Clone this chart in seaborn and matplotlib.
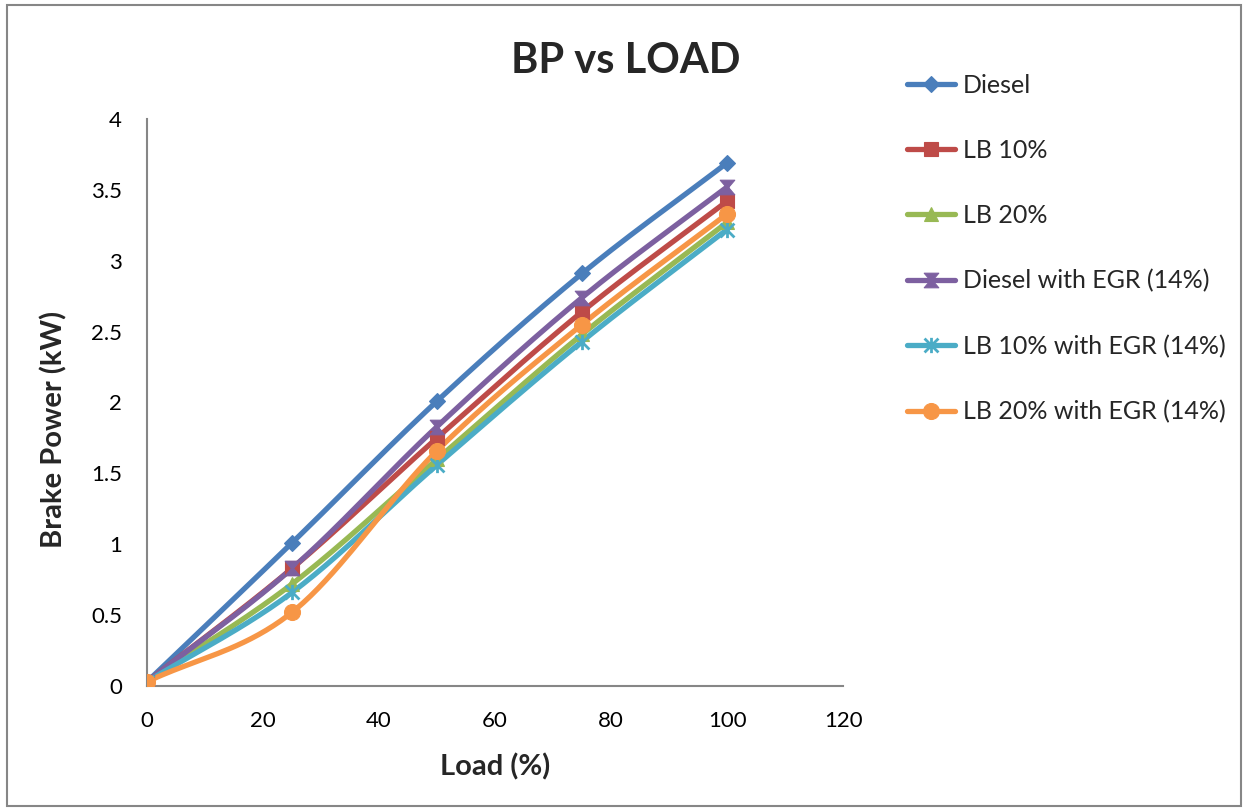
import numpy as np
import pandas as pd
import matplotlib
matplotlib.use("Agg")
import matplotlib.pyplot as plt
from matplotlib.lines import Line2D
from matplotlib.path import Path
import seaborn as sns

# Engine test data: brake power at each load step
load = [0, 25, 50, 75, 100]
diesel = [0.03, 1.01, 2.01, 2.91, 3.69]
lb10 = [0.03, 0.83, 1.75, 2.64, 3.42]
lb20 = [0.03, 0.72, 1.60, 2.48, 3.27]
diesel_egr = [0.03, 0.83, 1.83, 2.74, 3.52]
lb10_egr = [0.03, 0.66, 1.56, 2.43, 3.22]
lb20_egr = [0.03, 0.52, 1.66, 2.55, 3.33]

series_names = ["Diesel", "LB 10%", "LB 20%", "Diesel with EGR (14%)",
                "LB 10% with EGR (14%)", "LB 20% with EGR (14%)"]
series_values = [diesel, lb10, lb20, diesel_egr, lb10_egr, lb20_egr]
colors = ["#4A7EBB", "#BE4B48", "#98B954", "#7D60A0", "#4BACC6", "#F79646"]

hourglass = Path([(-1, 1), (1, 1), (0.15, 0), (1, -1), (-1, -1), (-0.15, 0), (-1, 1)],
                 [Path.MOVETO] + [Path.LINETO] * 5 + [Path.CLOSEPOLY])
asterisk = Path([(-1, 1), (1, -1), (-1, -1), (1, 1), (0, 1.1), (0, -1.1)],
                [Path.MOVETO, Path.LINETO, Path.MOVETO, Path.LINETO, Path.MOVETO, Path.LINETO])
markers = ["D", "s", "^", hourglass, asterisk, "o"]
msizes = [8.5, 10.5, 10.5, 10.5, 11, 11.5]


def smooth_curve(xs, ys, n=40):
    """Catmull-Rom style smoothing through the given points."""
    xs = np.asarray(xs, float)
    ys = np.asarray(ys, float)
    px = np.concatenate([[2 * xs[0] - xs[1]], xs, [2 * xs[-1] - xs[-2]]])
    py = np.concatenate([[2 * ys[0] - ys[1]], ys, [2 * ys[-1] - ys[-2]]])
    out_x, out_y = [], []
    t = np.linspace(0, 1, n)
    for i in range(1, len(px) - 2):
        p0, p1, p2, p3 = (np.array([px[j], py[j]]) for j in (i - 1, i, i + 1, i + 2))
        c1 = p1 + (p2 - p0) / 6
        c2 = p2 - (p3 - p1) / 6
        b = ((1 - t) ** 3)[:, None] * p1 + (3 * (1 - t) ** 2 * t)[:, None] * c1 \
            + (3 * (1 - t) * t ** 2)[:, None] * c2 + (t ** 3)[:, None] * p2
        out_x.extend(b[:, 0])
        out_y.extend(b[:, 1])
    return np.array(out_x), np.array(out_y)


sns.set_theme(style="white")
plt.rcParams["font.family"] = ["Lato", "DejaVu Sans"]

fig = plt.figure(figsize=(12.46, 8.09), dpi=100)
ax = fig.add_axes([0.118, 0.152, 0.5586, 0.701])

for name, vals, c in zip(series_names, series_values, colors):
    sx, sy = smooth_curve(load, vals)
    curve = pd.DataFrame({"x": sx, "y": sy})
    sns.lineplot(data=curve, x="x", y="y", ax=ax, color=c, linewidth=3.8,
                 sort=False, estimator=None, zorder=2)

for name, vals, c, m, ms in zip(series_names, series_values, colors, markers, msizes):
    ax.plot(load, vals, linestyle="none", marker=m, markersize=ms, color=c,
            markeredgecolor=c, markeredgewidth=2.0 if m is asterisk else 0.8, zorder=3)

ax.set_xlim(0, 120)
ax.set_ylim(0, 4)
ax.set_xticks([0, 20, 40, 60, 80, 100, 120])
ax.set_yticks([0, 0.5, 1, 1.5, 2, 2.5, 3, 3.5, 4])
ax.set_yticklabels(["0", "0.5", "1", "1.5", "2", "2.5", "3", "3.5", "4"])
ax.tick_params(axis="both", length=0, labelsize=16, colors="black")
ax.tick_params(axis="x", pad=18)
ax.tick_params(axis="y", pad=18)
for side in ["top", "right"]:
    ax.spines[side].set_visible(False)
for side in ["left", "bottom"]:
    ax.spines[side].set_color("#868686")
    ax.spines[side].set_linewidth(1.5)
ax.grid(False)

ax.set_xlabel("Load (%)", fontsize=21, fontweight="bold", labelpad=16)
ax.set_ylabel("Brake Power (kW)", fontsize=21, fontweight="bold")
ax.yaxis.label.set_verticalalignment("center")
ax.yaxis.set_label_coords(-0.134, 0.453)
fig.text(0.502, 0.925, "BP vs LOAD", ha="center", va="center",
         fontsize=30, fontweight="bold")

handles = [Line2D([0], [0], color=c, linewidth=3.8, marker=m, markersize=ms,
                  markeredgecolor=c, markeredgewidth=2.0 if m is asterisk else 0.8)
           for c, m, ms in zip(colors, markers, msizes)]
fig.legend(handles, series_names, loc="upper left", bbox_to_anchor=(0.728, 0.909),
           frameon=False, fontsize=18, labelspacing=1.69, handlelength=1.9,
           handletextpad=0.32, borderaxespad=0, borderpad=0)

# outer chart border
fig.patches.append(plt.Rectangle((0.006, 0.004), 0.99, 0.99, transform=fig.transFigure,
                                 fill=False, edgecolor="#868686", linewidth=1.5))

fig.savefig("out.png", dpi=100, facecolor="white")
